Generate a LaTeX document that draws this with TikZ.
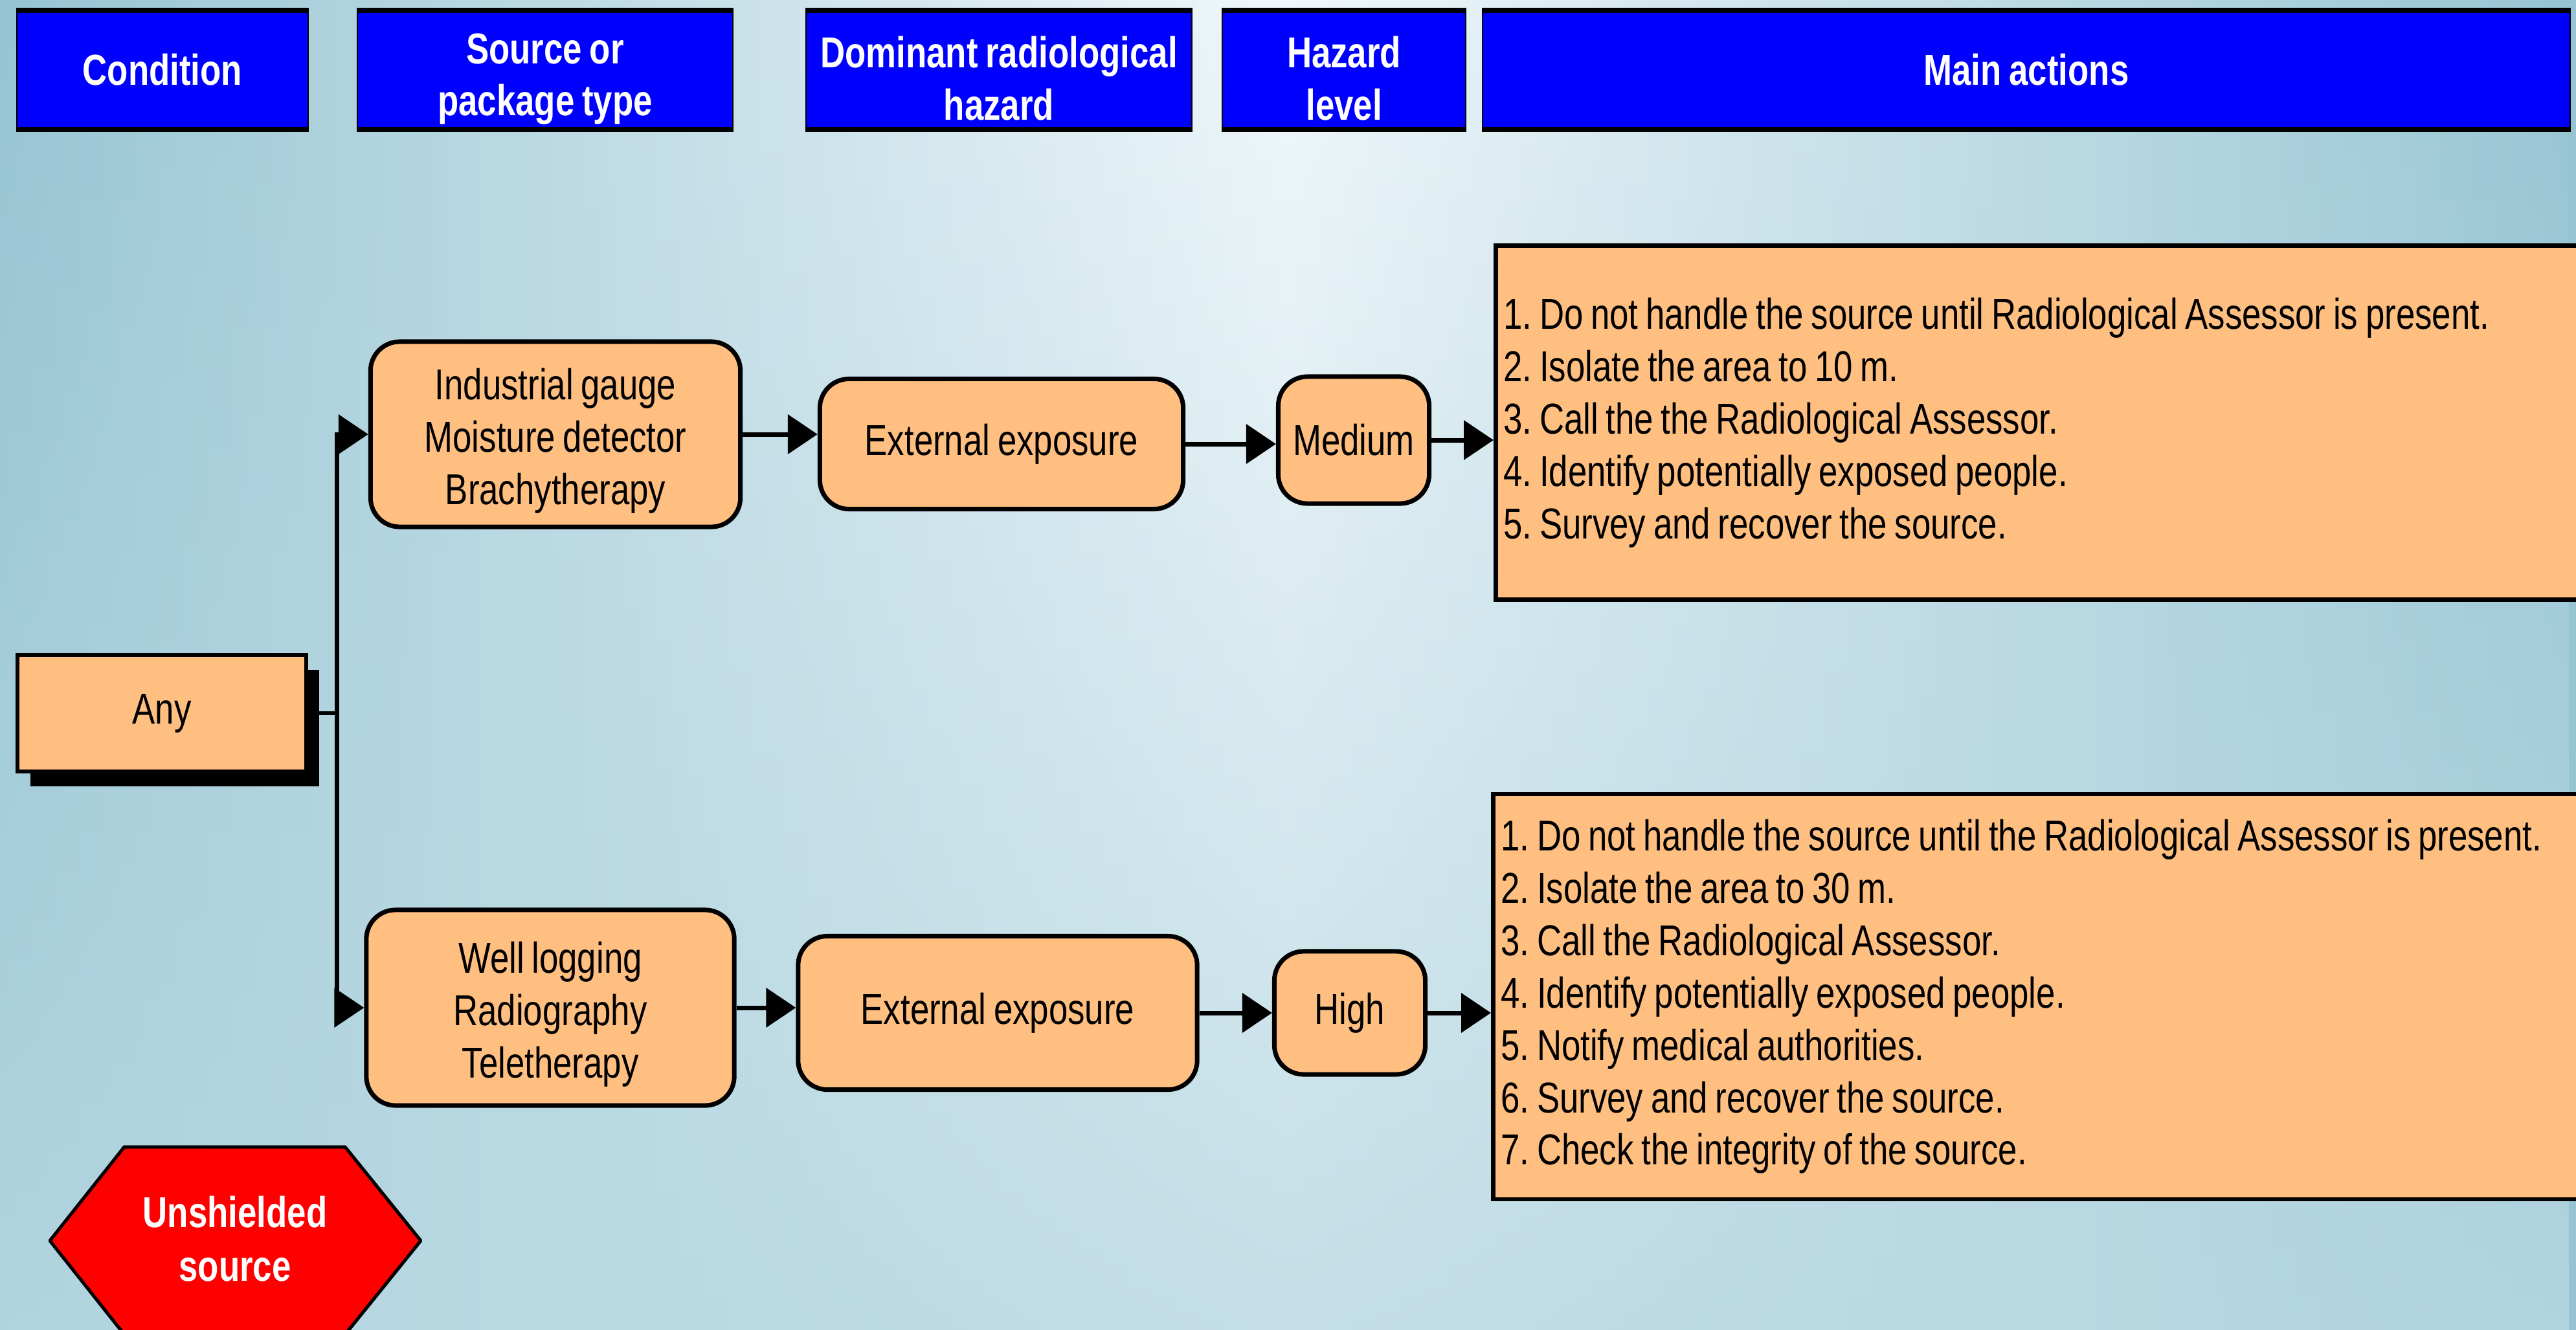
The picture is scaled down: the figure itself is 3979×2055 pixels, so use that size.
\documentclass[tikz,border=0pt]{standalone}
\usepackage{fontspec}
\setmainfont{Liberation Sans}[FakeStretch=0.79, WordSpace=0.8]
\usetikzlibrary{arrows.meta, shadows, fadings}
\definecolor{boxorange}{RGB}{255,191,128}
\definecolor{headblue}{RGB}{0,0,255}
\definecolor{alertred}{RGB}{255,0,0}
\definecolor{bgedge}{RGB}{150,196,211}
\definecolor{bglight}{RGB}{241,248,251}
\definecolor{bgbottom}{RGB}{184,216,226}
\newcommand{\bodyfont}{\fontsize{19pt}{23pt}\selectfont\frenchspacing}
\newcommand{\headfont}{\fontsize{19pt}{23pt}\selectfont\bfseries}
\tikzfading[name=bgfade, top color=transparent!100, bottom color=transparent!20]
\tikzset{
  headbox/.style={draw=black, line width=0.02cm, fill=headblue, text=white, font=\headfont,
    align=center, inner sep=0pt, minimum height=1.89cm,
    path picture={
      \fill[black] (path picture bounding box.north west) rectangle ([yshift=-0.07cm]path picture bounding box.north east);
      \fill[black] (path picture bounding box.south west) rectangle ([yshift=0.07cm]path picture bounding box.south east);
    }},
  twoline/.style={text height=1.56cm},
  threeline/.style={text height=2.30cm},
  stepbox/.style={draw=black, line width=0.07cm, fill=boxorange, rounded corners=0.45cm,
    font=\bodyfont, align=center, inner sep=0pt},
  condbox/.style={draw=black, line width=0.06cm, fill=boxorange, font=\bodyfont,
    minimum width=4.46cm, minimum height=1.79cm,
    drop shadow={shadow xshift=0.2cm, shadow yshift=-0.23cm, opacity=1, fill=black}},
  listbox/.style={draw=black, line width=0.065cm, fill=boxorange, font=\bodyfont, align=flush left,
    anchor=west, text width=16.9cm, inner xsep=0.12cm},
  flow/.style={line width=0.07cm, -{Triangle[length=0.46cm, width=0.6cm]}},
  link/.style={line width=0.065cm},
}

\begin{document}
\begin{tikzpicture}[x=0.01cm, y=-0.01cm]
    \useasboundingbox (0,0) rectangle (3979,2055);
    % background
    \fill[left color=bgedge, right color=bgedge, middle color=bglight] (0,0) rectangle (3979,2055);
    \fill[bgbottom, path fading=bgfade] (0,0) rectangle (3979,2055);

    % column headers
    \node[headbox, minimum width=4.50cm] (hcond) at (251,108) {Condition};
    \node[headbox, twoline, minimum width=5.80cm] (hsrc) at (842,108) {Source or\\package type};
    \node[headbox, twoline, minimum width=5.96cm] (hhaz) at (1543,108) {Dominant radiological\\hazard};
    \node[headbox, twoline, minimum width=3.76cm] (hlev) at (2076,108) {Hazard\\level};
    \node[headbox, minimum width=16.79cm] (hact) at (3130,108) {Main actions};

    % condition
    \node[condbox] (any) at (250,1102) {Any};

    % upper branch
    \node[stepbox, threeline, minimum width=5.71cm, minimum height=2.86cm] (src1) at (858,671) {Industrial gauge\\Moisture detector\\Brachytherapy};
    \node[stepbox, minimum width=5.61cm, minimum height=2.01cm] (ext1) at (1547,686) {External exposure};
    \node[stepbox, minimum width=2.33cm, minimum height=1.96cm] (lvl1) at (2091,680) {Medium};
    \node[listbox, minimum height=5.47cm] (act1) at (2307,653) {1. Do not handle the source until Radiological Assessor is present.\\2. Isolate the area to 10 m.\\3. Call the the Radiological Assessor.\\4. Identify potentially exposed people.\\5. Survey and recover the source.};

    % lower branch
    \node[stepbox, threeline, minimum width=5.68cm, minimum height=3.02cm] (src2) at (850,1557) {Well logging\\Radiography\\Teletherapy};
    \node[stepbox, minimum width=6.16cm, minimum height=2.37cm] (ext2) at (1541,1565) {External exposure};
    \node[stepbox, minimum width=2.33cm, minimum height=1.90cm] (lvl2) at (2085,1565) {High};
    \node[listbox, minimum height=6.26cm] (act2) at (2303,1540) {1. Do not handle the source until the Radiological Assessor is present.\\2. Isolate the area to 30 m.\\3. Call the Radiological Assessor.\\4. Identify potentially exposed people.\\5. Notify medical authorities.\\6. Survey and recover the source.\\7. Check the integrity of the source.};

    % connectors
    \coordinate (split) at (520,1102);
    \draw[link] (any.east) -- (split);
    \draw[flow] (split) |- (src1.west);
    \draw[flow] (split) |- (src2.west);
    \draw[flow] (src1.east) -- (src1.east -| ext1.west);
    \draw[flow] (ext1.east) -- (ext1.east -| lvl1.west);
    \draw[flow] (lvl1.east) -- (lvl1.east -| act1.west);
    \draw[flow] (src2.east) -- (src2.east -| ext2.west);
    \draw[flow] (ext2.east) -- (ext2.east -| lvl2.west);
    \draw[flow] (lvl2.east) -- (lvl2.east -| act2.west);

    % warning sign
    \draw[line width=0.05cm, fill=alertred, line join=round] (77,1917) -- (192,1772) -- (533,1772) -- (650,1917) -- (533,2062) -- (192,2062) -- cycle;
    \node[text=white, align=center, font={\bfseries\fontsize{19pt}{23.6pt}\selectfont}] (unsh) at (363,1914) {Unshielded\\source};
\end{tikzpicture}
\end{document}
